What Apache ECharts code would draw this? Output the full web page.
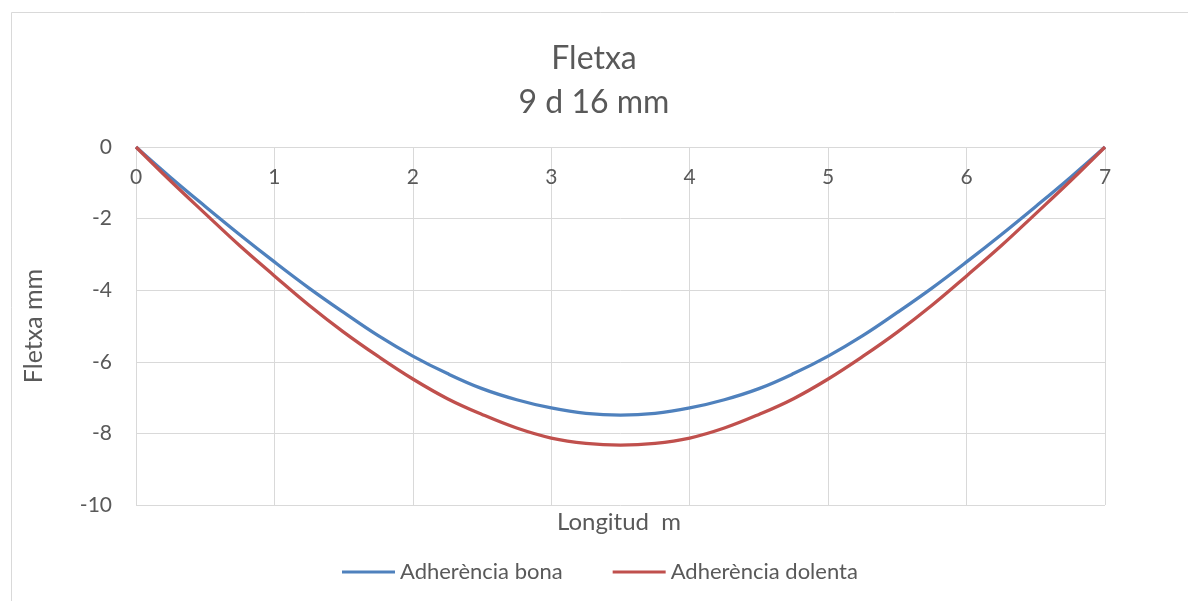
<!DOCTYPE html>
<html>
<head>
<meta charset="utf-8">
<script src="https://cdn.jsdelivr.net/npm/echarts@6/dist/echarts.min.js"></script>
<style>
  html, body { margin: 0; padding: 0; background: #fff; }
  #chart { width: 1188px; height: 601px; }
</style>
</head>
<body>
<div id="chart"></div>
<script>
// Beam length positions (m) and deflection readings (mm)
const positions = [0, 0.25, 0.5, 0.75, 1, 1.25, 1.5, 1.75, 2, 2.25, 2.5, 2.75, 3, 3.25, 3.5,
                   3.75, 4, 4.25, 4.5, 4.75, 5, 5.25, 5.5, 5.75, 6, 6.25, 6.5, 6.75, 7];
const deflGood  = [0, -0.85, -1.66, -2.45, -3.21, -3.94, -4.62, -5.27, -5.84, -6.33, -6.75, -7.06, -7.29, -7.44, -7.49,
                   -7.44, -7.29, -7.06, -6.75, -6.33, -5.84, -5.27, -4.62, -3.94, -3.21, -2.45, -1.66, -0.85, 0];
const deflPoor  = [0, -0.95, -1.86, -2.76, -3.60, -4.42, -5.17, -5.85, -6.48, -7.03, -7.47, -7.85, -8.13, -8.28, -8.33,
                   -8.28, -8.13, -7.85, -7.47, -7.03, -6.48, -5.85, -5.17, -4.42, -3.60, -2.76, -1.86, -0.95, 0];
const seriesNames = ['Adherència bona', 'Adherència dolenta'];
const titleLines = ['Fletxa', '9 d 16 mm'];
const xAxisTitle = 'Longitud  m';
const yAxisTitle = 'Fletxa mm';

const FONT = 'Lato, "Liberation Sans", sans-serif';
const TEXT = '#595959';
const GRID = '#d9d9d9';

const pairs = vals => positions.map((x, i) => [x, vals[i]]);

const chart = echarts.init(document.getElementById('chart'));
chart.setOption({
  animation: false,
  backgroundColor: '#ffffff',
  textStyle: { fontFamily: FONT },
  title: {
    text: titleLines.join('\n'),
    left: 'center',
    top: 32,
    textStyle: { fontFamily: FONT, fontSize: 32, fontWeight: 'normal', color: TEXT, lineHeight: 44 }
  },
  graphic: [
    {
      type: 'rect', left: 9, top: 10, silent: true,
      shape: { width: 1200, height: 620 },
      style: { fill: 'none', stroke: '#d9d9d9', lineWidth: 1 }
    },
    {
      // horizontal axis title, centred under the plot area
      type: 'text', x: 619, y: 510, silent: true,
      style: { text: xAxisTitle, font: '24px ' + FONT, fill: TEXT, textAlign: 'center' }
    }
  ],
  legend: {
    left: 337,
    top: 556,
    icon: 'rect',
    itemWidth: 53,
    itemHeight: 3,
    itemGap: 50,
    textStyle: { fontFamily: FONT, fontSize: 22, color: TEXT },
    data: seriesNames
  },
  grid: { left: 136, right: 83, top: 147, bottom: 96 },
  xAxis: {
    type: 'value',
    position: 'top',
    min: 0, max: 7, interval: 1,
    axisLine: { show: true, onZero: false, lineStyle: { color: GRID, width: 1 } },
    axisTick: { show: false },
    axisLabel: { inside: true, color: TEXT, fontSize: 21, fontFamily: FONT, margin: 20 },
    splitLine: { show: true, lineStyle: { color: GRID, width: 1 } }
  },
  yAxis: {
    type: 'value',
    min: -10, max: 0, interval: 2,
    name: yAxisTitle,
    nameLocation: 'middle',
    nameRotate: 90,
    nameGap: 90,
    nameTextStyle: { color: TEXT, fontSize: 25, fontFamily: FONT },
    axisLine: { show: true, lineStyle: { color: GRID, width: 1 } },
    axisTick: { show: false },
    axisLabel: { color: TEXT, fontSize: 21, fontFamily: FONT, margin: 24 },
    splitLine: { show: true, lineStyle: { color: GRID, width: 1 } }
  },
  series: [
    {
      name: seriesNames[0], type: 'line', smooth: 0.4, showSymbol: false,
      data: pairs(deflGood),
      itemStyle: { color: '#4F81BD' },
      lineStyle: { color: '#4F81BD', width: 3.3 }
    },
    {
      name: seriesNames[1], type: 'line', smooth: 0.4, showSymbol: false,
      data: pairs(deflPoor),
      itemStyle: { color: '#C0504D' },
      lineStyle: { color: '#C0504D', width: 3.3 }
    }
  ]
});
</script>
</body>
</html>
